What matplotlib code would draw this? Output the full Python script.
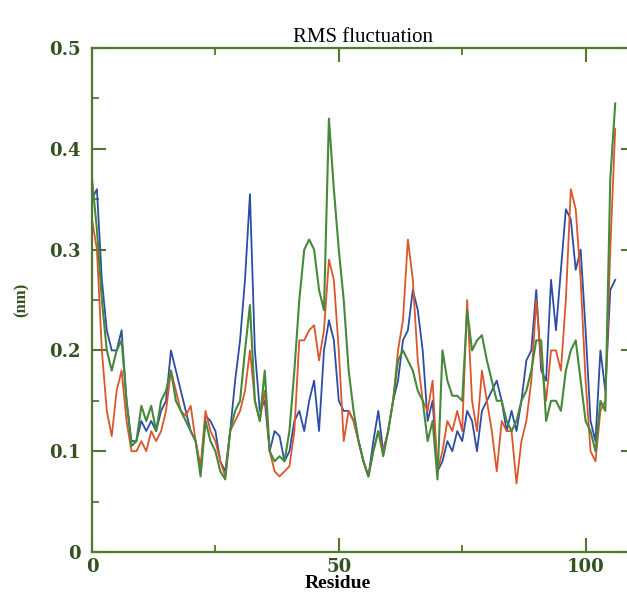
import numpy as np
import matplotlib
matplotlib.use("Agg")
import matplotlib.pyplot as plt
from matplotlib.ticker import MultipleLocator

residue = np.arange(0, 107)

rmsf_blue = [0.35, 0.36, 0.27, 0.22, 0.20, 0.20, 0.22, 0.15, 0.11, 0.11,
             0.13, 0.12, 0.13, 0.12, 0.14, 0.15, 0.20, 0.18, 0.16, 0.14,
             0.12, 0.11, 0.08, 0.135, 0.13, 0.12, 0.09, 0.08, 0.12, 0.17,
             0.21, 0.27, 0.355, 0.20, 0.14, 0.15, 0.10, 0.12, 0.115, 0.09,
             0.10, 0.13, 0.14, 0.12, 0.15, 0.17, 0.12, 0.20, 0.23, 0.21,
             0.15, 0.14, 0.14, 0.13, 0.11, 0.09, 0.075, 0.11, 0.14, 0.10,
             0.12, 0.15, 0.17, 0.21, 0.22, 0.26, 0.24, 0.20, 0.13, 0.15,
             0.08, 0.09, 0.11, 0.10, 0.12, 0.11, 0.14, 0.13, 0.10, 0.14,
             0.15, 0.16, 0.17, 0.15, 0.12, 0.14, 0.12, 0.15, 0.19, 0.20,
             0.26, 0.18, 0.17, 0.27, 0.22, 0.28, 0.34, 0.33, 0.28, 0.30,
             0.22, 0.13, 0.11, 0.20, 0.16, 0.26, 0.27]

rmsf_red = [0.33, 0.30, 0.20, 0.14, 0.115, 0.16, 0.18, 0.13, 0.10, 0.10,
            0.11, 0.10, 0.12, 0.11, 0.12, 0.14, 0.18, 0.16, 0.14, 0.135,
            0.145, 0.11, 0.085, 0.14, 0.12, 0.11, 0.09, 0.075, 0.12, 0.13,
            0.14, 0.16, 0.20, 0.15, 0.13, 0.16, 0.10, 0.08, 0.075, 0.08,
            0.085, 0.12, 0.21, 0.21, 0.22, 0.225, 0.19, 0.22, 0.29, 0.27,
            0.20, 0.11, 0.14, 0.13, 0.11, 0.09, 0.075, 0.10, 0.12, 0.10,
            0.12, 0.15, 0.20, 0.23, 0.31, 0.27, 0.19, 0.15, 0.14, 0.17,
            0.08, 0.10, 0.13, 0.12, 0.14, 0.12, 0.25, 0.15, 0.12, 0.18,
            0.15, 0.12, 0.08, 0.13, 0.12, 0.12, 0.068, 0.11, 0.13, 0.17,
            0.25, 0.19, 0.15, 0.20, 0.20, 0.18, 0.25, 0.36, 0.34, 0.27,
            0.17, 0.10, 0.09, 0.14, 0.15, 0.30, 0.42]

rmsf_green = [0.37, 0.32, 0.25, 0.20, 0.18, 0.20, 0.21, 0.15, 0.105, 0.11,
              0.145, 0.13, 0.145, 0.12, 0.15, 0.16, 0.18, 0.15, 0.14, 0.13,
              0.12, 0.11, 0.075, 0.13, 0.11, 0.10, 0.08, 0.072, 0.12, 0.14,
              0.15, 0.20, 0.245, 0.15, 0.13, 0.18, 0.10, 0.09, 0.095, 0.09,
              0.12, 0.18, 0.25, 0.30, 0.31, 0.30, 0.26, 0.24, 0.43, 0.36,
              0.30, 0.25, 0.18, 0.14, 0.11, 0.09, 0.075, 0.10, 0.12, 0.095,
              0.12, 0.15, 0.19, 0.20, 0.19, 0.18, 0.16, 0.15, 0.11, 0.13,
              0.072, 0.20, 0.17, 0.155, 0.155, 0.15, 0.24, 0.20, 0.21, 0.215,
              0.19, 0.17, 0.15, 0.15, 0.13, 0.12, 0.13, 0.15, 0.16, 0.18,
              0.21, 0.21, 0.13, 0.15, 0.15, 0.14, 0.18, 0.20, 0.21, 0.17,
              0.13, 0.12, 0.10, 0.15, 0.14, 0.37, 0.445]

axis_green = "#4f7a2c"
label_green = "#34521f"

fig = plt.figure(figsize=(6.27, 5.98), dpi=100)
ax = fig.add_axes([0.1467, 0.0769, 0.866, 0.8428])

ax.plot(residue, rmsf_blue, color="#2c4da3", lw=1.3)
ax.plot(residue, rmsf_red, color="#d9572a", lw=1.3)
ax.plot(residue, rmsf_green, color="#46893a", lw=1.5)

ax.set_xlim(0, 110)
ax.set_ylim(0, 0.5)
ax.xaxis.set_major_locator(MultipleLocator(50))
ax.xaxis.set_minor_locator(MultipleLocator(25))
ax.yaxis.set_major_locator(MultipleLocator(0.1))
ax.yaxis.set_minor_locator(MultipleLocator(0.05))
ax.yaxis.set_major_formatter(plt.FuncFormatter(lambda v, p: "0" if v == 0 else f"{v:.1f}"))

for s in ax.spines.values():
    s.set_color(axis_green)
    s.set_linewidth(1.6)

ax.tick_params(which="both", direction="in", top=True, right=True, color=axis_green)
ax.tick_params(which="major", length=10, width=1.5)
ax.tick_params(which="minor", length=5, width=1.3)
ax.tick_params(axis="both", labelsize=13, labelcolor=label_green)
ax.tick_params(axis="y", pad=8)
ax.tick_params(axis="x", pad=4)
for lab in ax.get_xticklabels() + ax.get_yticklabels():
    lab.set_family("DejaVu Serif")
    lab.set_fontweight("bold")

ax.set_title("RMS fluctuation", fontsize=15, family="Liberation Serif", pad=4)
ax.set_xlabel("Residue", fontsize=14, family="Liberation Serif", fontweight="bold")
ax.xaxis.set_label_coords(0.453, -0.045)
ax.set_ylabel("(nm)", fontsize=12, family="Liberation Serif", fontweight="bold",
              color=label_green, labelpad=14)

fig.savefig("out.png", dpi=100)
